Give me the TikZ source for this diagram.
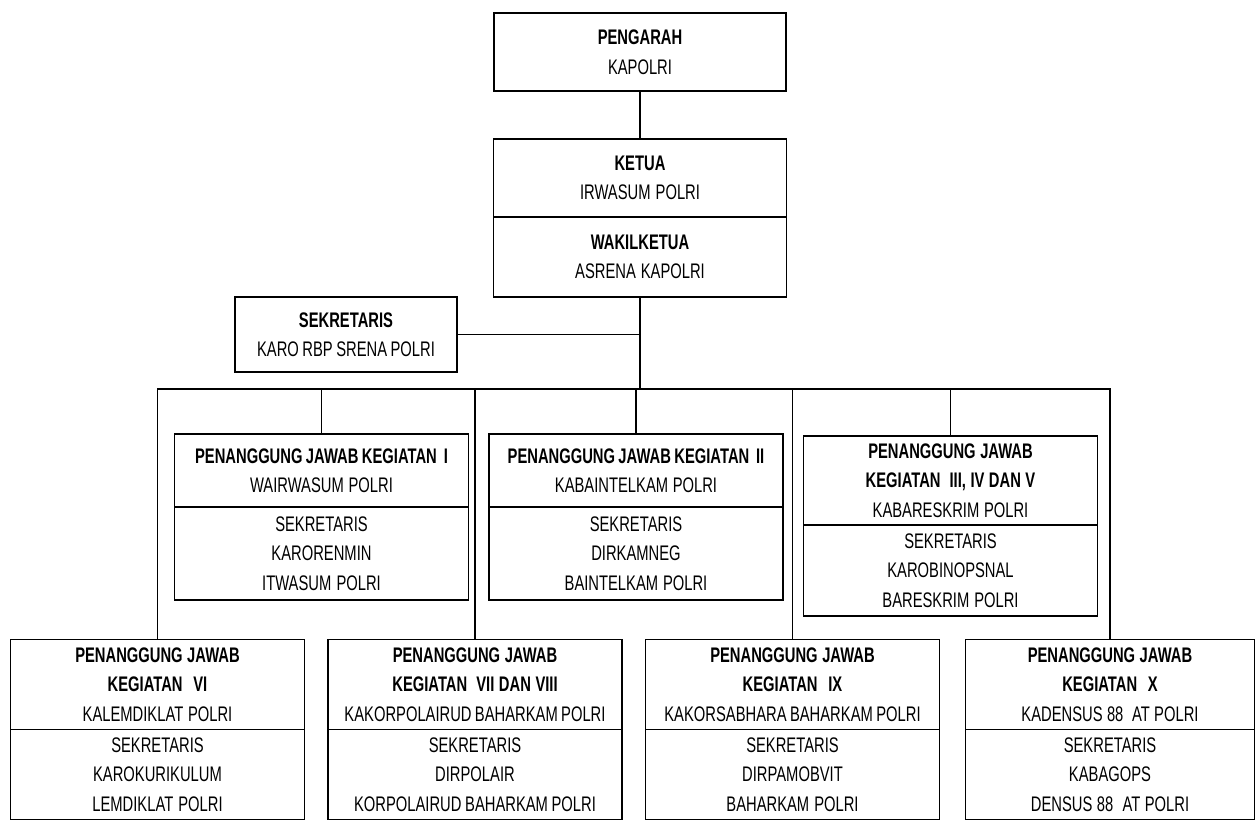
\documentclass[tikz,border=0pt]{standalone}
\usepackage{fontspec}
\setmainfont{Liberation Sans}[FakeStretch=0.70]
\usetikzlibrary{positioning}
\tikzstyle{box}=[draw, line width=1pt, text width=5.88cm, inner xsep=0pt, inner ysep=1pt, align=center, font=\fontsize{12}{16.8}\selectfont, execute at begin node={\spaceskip=0.14em plus 0.05em\relax}]
\tikzstyle{head}=[box, minimum height=1.46cm]
\tikzstyle{sekbox}=[box, minimum height=1.86cm]
\tikzstyle{rowbox}=[box, minimum height=1.8cm]

\begin{document}
\begin{tikzpicture}[node distance=2cm,auto,line width=0.7pt]
\useasboundingbox (0,0) rectangle (25.12,-16.42);

\node[box, text width=5.84cm, minimum height=1.56cm] at (12.8,-1.04) (pengarah) {\textbf{PENGARAH}\\KAPOLRI};
\node[box, text width=5.86cm, minimum height=1.56cm, below of = pengarah, node distance = 2.52cm] (ketua) {\textbf{KETUA}\\IRWASUM POLRI};
\node[box, text width=5.86cm, minimum height=1.6cm, below of = ketua, node distance = 1.58cm] (wakil) {\textbf{WAKILKETUA}\\ASRENA KAPOLRI};
\node[box, text width=4.44cm, minimum height=1.5cm] at (6.92,-6.69) (sekr) {\textbf{SEKRETARIS}\\KARO RBP SRENA POLRI};

% penanggung jawab, upper row
\node[head] at (6.43,-9.41) (pj1) {\textbf{PENANGGUNG JAWAB KEGIATAN~ I}\\WAIRWASUM POLRI};
\node[sekbox, below of = pj1, node distance = 1.66cm] (pj1s) {SEKRETARIS\\KARORENMIN\\ITWASUM POLRI};
\node[head, right of = pj1, node distance = 6.29cm] (pj2) {\textbf{PENANGGUNG JAWAB KEGIATAN~ II}\\KABAINTELKAM POLRI};
\node[sekbox, below of = pj2, node distance = 1.66cm] (pj2s) {SEKRETARIS\\DIRKAMNEG\\BAINTELKAM POLRI};
\node[box, minimum height=1.78cm, right of = pj2, node distance = 6.29cm, yshift = -0.2cm] (pj3) {\textbf{PENANGGUNG JAWAB}\\\textbf{KEGIATAN~ III, IV DAN V}\\KABARESKRIM POLRI};
\node[box, minimum height=1.82cm, below of = pj3, node distance = 1.8cm] (pj3s) {SEKRETARIS\\KAROBINOPSNAL\\BARESKRIM POLRI};

% penanggung jawab, lower row
\node[rowbox] at (3.15,-13.69) (pj6) {\textbf{PENANGGUNG JAWAB}\\\textbf{KEGIATAN~ VI}\\KALEMDIKLAT POLRI};
\node[rowbox, below of = pj6, node distance = 1.8cm] (pj6s) {SEKRETARIS\\KAROKURIKULUM\\LEMDIKLAT POLRI};
\node[rowbox, right of = pj6, node distance = 6.35cm] (pj7) {\textbf{PENANGGUNG JAWAB}\\\textbf{KEGIATAN~ VII DAN VIII}\\KAKORPOLAIRUD BAHARKAM POLRI};
\node[rowbox, below of = pj7, node distance = 1.8cm] (pj7s) {SEKRETARIS\\DIRPOLAIR\\KORPOLAIRUD BAHARKAM POLRI};
\node[rowbox, right of = pj7, node distance = 6.35cm] (pj9) {\textbf{PENANGGUNG JAWAB}\\\textbf{KEGIATAN~ IX}\\KAKORSABHARA BAHARKAM POLRI};
\node[rowbox, below of = pj9, node distance = 1.8cm] (pj9s) {SEKRETARIS\\DIRPAMOBVIT\\BAHARKAM POLRI};
\node[rowbox, text width=5.78cm, right of = pj9, node distance = 6.35cm] (pj10) {\textbf{PENANGGUNG JAWAB}\\\textbf{KEGIATAN~ X}\\KADENSUS 88~ AT POLRI};
\node[rowbox, text width=5.78cm, below of = pj10, node distance = 1.8cm] (pj10s) {SEKRETARIS\\KABAGOPS\\DENSUS 88~ AT POLRI};

\coordinate (bus) at (12.8,-7.78);
\draw (pengarah) -- (ketua);
\draw (wakil) -- (bus);
\draw (sekr.east) -- (sekr.east -| bus);
\draw (pj6) |- (bus) -| (pj10);
\foreach \b in {pj1,pj7,pj2,pj9,pj3}
  \draw (\b) -- (\b |- bus);
\end{tikzpicture}
\end{document}
